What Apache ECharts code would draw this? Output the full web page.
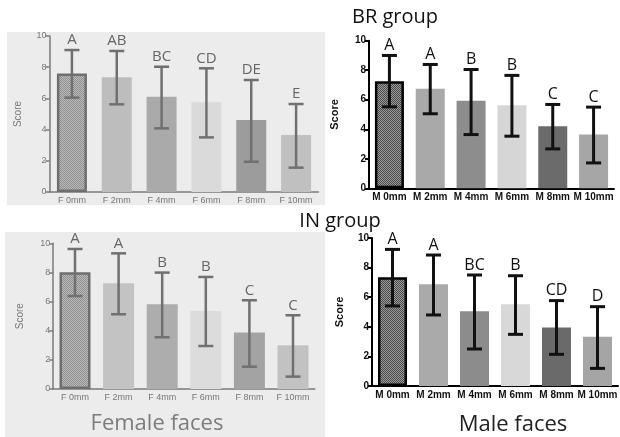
<!DOCTYPE html>
<html><head><meta charset="utf-8">
<script src="https://cdn.jsdelivr.net/npm/echarts@6/dist/echarts.min.js"></script>
<style>html,body{margin:0;padding:0;background:#fff;}#c{width:620px;height:437px;}</style>
</head><body><div id="c"></div><script>
// ---- data ----
const femaleCats = ['F 0mm', 'F 2mm', 'F 4mm', 'F 6mm', 'F 8mm', 'F 10mm'];
const maleCats = ['M 0mm', 'M 2mm', 'M 4mm', 'M 6mm', 'M 8mm', 'M 10mm'];
const yTicks = [0, 2, 4, 6, 8, 10];

const brFemaleMean = [7.6, 7.35, 6.1, 5.75, 4.62, 3.65];
const brFemaleLow = [6.05, 5.62, 4.08, 3.5, 1.94, 1.56];
const brFemaleHigh = [9.1, 9.04, 8.03, 7.93, 7.18, 5.64];
const brFemaleLetters = ['A', 'AB', 'BC', 'CD', 'DE', 'E'];

const brMaleMean = [7.26, 6.74, 5.93, 5.63, 4.21, 3.64];
const brMaleLow = [5.52, 5.05, 3.64, 3.53, 2.67, 1.72];
const brMaleHigh = [9.0, 8.39, 8.05, 7.65, 5.68, 5.5];
const brMaleLetters = ['A', 'A', 'B', 'B', 'C', 'C'];

const inFemaleMean = [8.01, 7.25, 5.81, 5.35, 3.87, 3.0];
const inFemaleLow = [6.38, 5.13, 3.55, 2.95, 1.53, 0.85];
const inFemaleHigh = [9.61, 9.31, 7.99, 7.69, 6.09, 5.06];
const inFemaleLetters = ['A', 'A', 'B', 'B', 'C', 'C'];

const inMaleMean = [7.34, 6.87, 5.05, 5.52, 3.96, 3.33];
const inMaleLow = [5.41, 4.8, 2.5, 3.49, 2.14, 1.19];
const inMaleHigh = [9.23, 8.85, 7.5, 7.45, 5.77, 5.36];
const inMaleLetters = ['A', 'A', 'BC', 'B', 'CD', 'D'];

const titleTop = 'BR group';
const titleMid = 'IN group';
const footLeft = 'Female faces';
const footRight = 'Male faces';
const yName = 'Score';

// ---- styling ----
function checker(a, b) {
  const c = document.createElement('canvas');
  c.width = 2; c.height = 2;
  const x = c.getContext('2d');
  x.fillStyle = a; x.fillRect(0, 0, 2, 2);
  x.fillStyle = b; x.fillRect(0, 0, 1, 1); x.fillRect(1, 1, 1, 1);
  return c;
}
const softPattern = { image: checker('#bcbcbc', '#8e8e8e'), repeat: 'repeat' };
const boldPattern = { image: checker('#9a9a9a', '#4a4a4a'), repeat: 'repeat' };

const themes = {
  soft: { axis: '#7a7a7a', axisW: 1.5, label: '#777', labelW: 'normal', labelSize: 9, nameSize: 10,
          letter: '#666', letterSize: 15, err: '#707070', errW: 2.5, border: '#6e6e6e', borderW: 2.5 },
  bold: { axis: '#000', axisW: 2, label: '#111', labelW: 'bold', labelSize: 10, nameSize: 11,
          letter: '#111', letterSize: 16, err: '#111', errW: 3, border: '#000', borderW: 2.5 }
};

const panels = [
  { cats: femaleCats, mean: brFemaleMean, low: brFemaleLow, high: brFemaleHigh, letters: brFemaleLetters,
    grid: { left: 49.5, top: 36, width: 269, height: 156 }, barWidth: 30, th: themes.soft, nameGap: 26,
    colors: [softPattern, '#bdbdbd', '#aaaaaa', '#dadada', '#9c9c9c', '#c0c0c0'] },
  { cats: maleCats, mean: brMaleMean, low: brMaleLow, high: brMaleHigh, letters: brMaleLetters,
    grid: { left: 369, top: 40.7, width: 245, height: 147.6 }, barWidth: 29, th: themes.bold, nameGap: 29,
    colors: [boldPattern, '#a9a9a9', '#8d8d8d', '#d6d6d6', '#6b6b6b', '#a6a6a6'] },
  { cats: femaleCats, mean: inFemaleMean, low: inFemaleLow, high: inFemaleHigh, letters: inFemaleLetters,
    grid: { left: 53.2, top: 243.3, width: 261.6, height: 145.7 }, barWidth: 31, th: themes.soft, nameGap: 28,
    colors: [softPattern, '#c3c3c3', '#adadad', '#dcdcdc', '#a3a3a3', '#c2c2c2'] },
  { cats: maleCats, mean: inMaleMean, low: inMaleLow, high: inMaleHigh, letters: inMaleLetters,
    grid: { left: 372, top: 238, width: 252, height: 148 }, barWidth: 29, th: themes.bold, nameGap: 27,
    colors: [boldPattern, '#aaaaaa', '#8c8c8c', '#d8d8d8', '#6a6a6a', '#a5a5a5'] }
];

const grid = [], xAxis = [], yAxis = [], series = [];
panels.forEach((p, k) => {
  const th = p.th;
  grid.push(Object.assign({ containLabel: false }, p.grid));
  xAxis.push({
    type: 'category', gridIndex: k, data: p.cats,
    axisLine: { lineStyle: { color: th.axis, width: th.axisW } },
    axisTick: { alignWithLabel: true, length: 3, lineStyle: { color: th.axis, width: th.axisW } },
    axisLabel: { interval: 0, margin: 4, color: th.label, fontWeight: th.labelW, fontSize: th.labelSize,
                 fontFamily: 'Liberation Sans, Arial, sans-serif' }
  });
  yAxis.push({
    type: 'value', gridIndex: k, min: yTicks[0], max: yTicks[yTicks.length - 1], interval: yTicks[1] - yTicks[0],
    name: yName, nameLocation: 'middle', nameGap: p.nameGap,
    nameTextStyle: { color: th.label, fontWeight: th.labelW, fontSize: th.nameSize, fontFamily: 'Liberation Sans, Arial, sans-serif' },
    splitLine: { show: false },
    axisLine: { show: true, lineStyle: { color: th.axis, width: th.axisW } },
    axisTick: { show: true, length: 4, lineStyle: { color: th.axis, width: th.axisW } },
    axisLabel: { margin: 3, color: th.label, fontWeight: th.labelW, fontSize: th.labelSize,
                 fontFamily: 'Liberation Sans, Arial, sans-serif' }
  });
  series.push({
    type: 'bar', xAxisIndex: k, yAxisIndex: k, barWidth: p.barWidth, z: 2,
    data: p.mean.map((v, i) => ({
      value: v,
      itemStyle: i === 0 ? { color: p.colors[i], borderColor: th.border, borderWidth: th.borderW } : { color: p.colors[i] }
    }))
  });
  series.push({
    type: 'custom', xAxisIndex: k, yAxisIndex: k, z: 5,
    encode: { x: 0, y: [1, 2] },
    data: p.cats.map((c, i) => [i, p.low[i], p.high[i]]),
    renderItem: function (params, api) {
      const i = api.value(0);
      const lo = api.coord([i, api.value(1)]);
      const hi = api.coord([i, api.value(2)]);
      const hw = 7.5;
      const ls = { stroke: th.err, lineWidth: th.errW };
      return {
        type: 'group',
        children: [
          { type: 'line', shape: { x1: lo[0], y1: lo[1], x2: hi[0], y2: hi[1] }, style: ls },
          { type: 'line', shape: { x1: lo[0] - hw, y1: lo[1], x2: lo[0] + hw, y2: lo[1] }, style: ls },
          { type: 'line', shape: { x1: hi[0] - hw, y1: hi[1], x2: hi[0] + hw, y2: hi[1] }, style: ls },
          { type: 'text', x: hi[0], y: hi[1] - 10,
            style: { text: p.letters[params.dataIndex], fill: th.letter, align: 'center', verticalAlign: 'middle',
                     font: th.letterSize + 'px "Open Sans", sans-serif' } }
        ]
      };
    }
  });
});

const graphic = [
  { type: 'rect', z: -100, shape: { x: 7, y: 32, width: 318, height: 173 }, style: { fill: '#ececec' }, silent: true },
  { type: 'rect', z: -100, shape: { x: 5, y: 232, width: 320, height: 205 }, style: { fill: '#ececec' }, silent: true },
  { type: 'text', x: 395, y: 17, style: { text: titleTop, fill: '#111', font: '20px "Open Sans", sans-serif', align: 'center', verticalAlign: 'middle' } },
  { type: 'text', x: 340, y: 221, style: { text: titleMid, fill: '#111', font: '20px "Open Sans", sans-serif', align: 'center', verticalAlign: 'middle' } },
  { type: 'text', x: 157, y: 424, style: { text: footLeft, fill: '#7c7c7c', font: '22px "Open Sans", sans-serif', align: 'center', verticalAlign: 'middle' } },
  { type: 'text', x: 513, y: 425, style: { text: footRight, fill: '#222', font: '22px "Open Sans", sans-serif', align: 'center', verticalAlign: 'middle' } }
];

const chart = echarts.init(document.getElementById('c'), null, { renderer: 'canvas' });
chart.setOption({ animation: false, backgroundColor: '#fff', grid, xAxis, yAxis, series, graphic });
</script></body></html>
